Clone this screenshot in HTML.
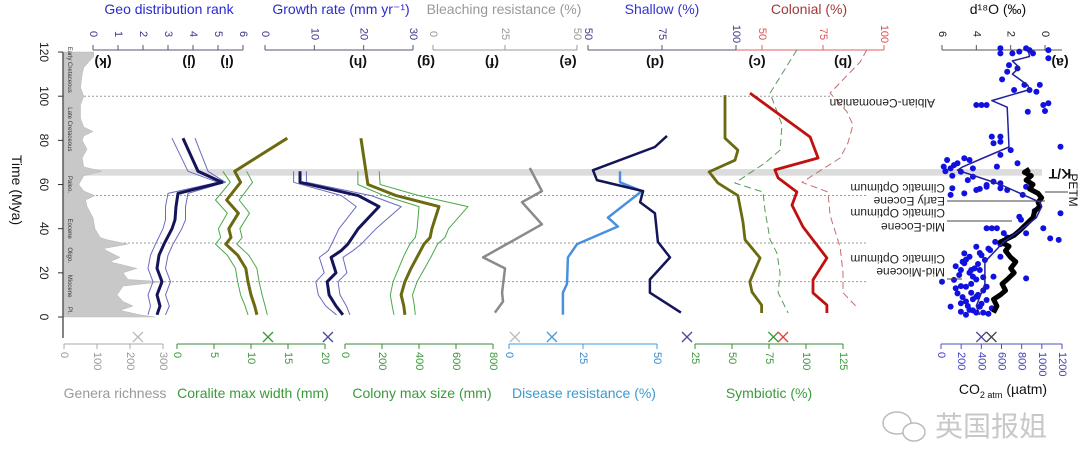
<!DOCTYPE html>
<html><head><meta charset="utf-8"><style>
html,body{margin:0;padding:0;background:#fff;width:1080px;height:473px;overflow:hidden}
svg{display:block;font-family:"Liberation Sans",Arial,sans-serif}
</style></head><body>
<svg id="c" width="1080" height="473" viewBox="0 0 1080 473"></svg>
<script>
// ---------- data ----------
const generaT=[120,118,113,110,104,100,96,90,86,84,82,80,76,72,68,66,64,60,57,55,53,50,45,40,36,35,33,31,30,27,25,22,20,17,16,14,12,10,7,5,3,1,0];
const generaV=[90,90,60,55,50,60,50,50,60,88,60,55,70,55,60,115,60,45,60,94,65,70,88,94,110,130,194,120,130,170,139,221,179,194,300,179,170,161,179,209,170,230,276];
const geoT=[81,66,61,56,50,44,40,33,28,22,16,10,5,1];
const geoMid=[3.6,4.2,5.16,3.4,3.32,3.28,3.16,2.84,2.64,2.56,2.76,2.56,2.68,2.56];
const geoLo=[3.16,3.8,5.0,3.0,2.9,2.9,2.8,2.5,2.3,2.2,2.4,2.2,2.3,2.2];
const geoHi=[4.08,4.6,5.3,3.8,3.7,3.7,3.55,3.2,3.0,2.9,3.1,2.9,3.05,2.9];
const coralT=[81,66,61,53,47,40,36,33,28,22,16,10,5,1];
const coralMid=[14.9,7.8,8.6,6.7,8.3,7.0,7.3,6.6,8.2,9.3,9.6,10.0,10.5,10.8];
const coralEnvT=[66,61,53,47,40,36,33,28,22,16,10,5,1];
const coralLo=[6.2,7.2,5.2,6.8,5.6,5.9,5.2,6.8,7.9,8.2,8.6,9.2,9.6];
const coralHi=[9.4,10.2,8.4,9.8,8.5,8.8,8.1,9.7,10.8,11.1,11.5,11.9,12.2];
const growthT=[66,61,55,50,40,33,30,27,20,16,10,5,1];
const growthMid=[7.1,7.1,18.9,23.1,18.9,16.8,15.4,13.4,14.4,12.6,13,14.4,15.8];
const growthLo=[5.8,5.8,15.5,18.5,15,13.5,12.8,11,12,10.3,10.8,12.3,14.5];
const growthHi=[8.4,8.4,21.5,27.6,22.5,19.5,17.8,15.8,16.6,14.8,15.2,16.5,17.2];
const colonyT=[81,60,55,50,40,36,33,28,22,16,10,5,1];
const colonyMid=[86,124,276,508,470,460,427,395,357,324,303,318,324];
const colonyEnvT=[66,60,55,50,40,36,33,28,22,16,10,5,1];
const colonyLo=[70,70,210,400,390,380,350,320,290,260,245,255,265];
const colonyHi=[185,190,400,665,560,540,500,470,430,390,365,375,380];
const bleachT=[67.5,57,52,42,27,22,11,7,2];
const bleachV=[33.6,37.8,30.9,37.8,17.4,25,24,24.3,21.5];
const diseaseT=[66,61,57,45,41,33,27,15,11,1];
const diseaseV=[37.5,37.5,44.9,33.4,36.8,23,19.9,19.6,18.2,18.2];
const shallowT=[82,77,66.5,62,57,52,47,34,27,17,11,2];
const shallowV=[76.7,72.6,51.7,53,68.6,67.6,72.6,73.6,77.7,70.9,70.9,81.4];
const symT=[100.5,81,75.6,71,65.7,60.7,55,43,35,26.7,16,11.3,5.4,1.8];
const symV=[45.3,45.3,54,52,34.5,40.5,54,57.4,58.8,69,62,63.5,70,70];
const colonialT=[101.4,81.5,72,66.6,63,56.6,50.7,40.8,26.7,16.8,10.9,5.4,1.8];
const colonialV=[45.1,69.7,73,55.3,56.6,64.3,62.3,66.8,76.6,70.9,70.9,76.6,76.6];
const symDashT=[121,101.4,87,75.6,69.7,60.7,56.6,48.5,35,29,20,11,1.8];
const symDashV=[64.3,53.3,58.2,57.4,51.2,38.9,50.4,51.2,53.3,56.1,57.4,56.6,60.7];
const colDashT=[121,115.5,101.4,93,87,78.8,72,61,56.6,46,31.7,20,11,4.5];
const colDashV=[93,90.2,77.9,84.8,87.3,85.2,82,66.4,77,77.9,82,83.2,83.2,88.9];
const d18LineT=[122,118,116,113,110,105,103,98,95,77,72,68,66.5,63.4,60,52,50,45,39,34,25,15,5,1];
const d18LineV=[1.0,0.9,1.9,1.5,1.9,1.0,0.9,3.1,2.2,2.1,3.6,4.8,5.1,3.9,2.6,0.3,0.2,0.5,1.5,2.4,3.5,3.5,4.0,3.8];
const blackT=[67,65.5,64,62,60,58,56,54,52,50,48,45,42,39,37,35,34,32,30,27,25,22,20,17,15,12,10,8,5,2];
const blackV=[0.9,1.2,0.8,1.1,0.7,0.9,0.4,0.2,0.4,0.3,0.6,0.7,1.1,1.5,1.8,2.3,2.6,2.1,2.3,2.0,1.7,2.0,1.8,2.2,2.5,2.3,2.6,3.0,2.8,3.0];
const scatterT=[121.7,119.4,119.4,120.2,121.7,120.9,119.4,120.9,117.2,114.1,112.6,111.1,107.6,102.8,105.1,102.8,102,105.1,96,96,96,96,96.8,93,93.3,81.7,81.7,79.4,78.7,75.6,73.4,77.1,71.1,68.1,67.3,69.6,71.9,71.1,67.3,65.8,68.8,68.1,69.6,59,60.6,58.3,63.5,55.3,56,57.5,59.8,61.3,58.3,57.5,55.3,59,47,40.2,40.2,40.2,40.2,35.6,34.9,45.4,37.9,31.8,27.3,24.3,21.3,16,16.8,10.7,6.2,2.4,3.2,4.7,9.2,13.7,18.3,21.3,18.3,7.7,13.7,4.7,17.5,27.3,30.3,28.8,21.3,25.8,2,2,3,5,6,8,9,11,12,14,15,19,20,22,23,24,26,29,31,33,36,44,48,62,64,66,58,1,1.5,4,7,10,13,17,18,25,28,34,38];
const scatterV=[2.6,2.6,1.9,1.5,1.1,0.9,0.7,-0.2,-0.2,2.1,1.6,2.2,2.5,1.8,1.2,0.9,0.5,0.3,4.0,3.7,3.4,0.1,-0.2,1.0,0.0,3.1,2.6,2.6,3.0,2.0,2.6,-0.9,5.7,5.9,5.5,5.1,4.7,4.4,4.2,4.9,5.3,2.8,1.6,3.4,2.6,5.4,4.2,5.5,4.7,4.0,3.4,3.0,2.6,2.2,1.3,1.1,-0.9,3.4,3.1,2.8,0.1,-0.3,-0.8,1.5,1.1,4.0,4.4,4.7,4.9,6.0,5.3,5.1,4.9,4.9,4.4,3.8,4.0,3.4,4.2,3.8,3.0,3.4,4.6,5.5,1.1,2.6,3.2,4.7,4.3,3.5,4.0,3.6,4.2,4.5,3.7,4.2,4.8,4.3,3.6,4.9,4.3,5.0,4.4,4.1,5.2,3.9,4.6,3.8,3.3,2.6,2.2,1.4,0.6,4.5,5.4,5.8,3.8,4.6,3.3,3.1,4.6,3.9,5.2,4.0,3.6,4.8,3.7,2.9,2.4];
const markerAxis=['genera','coral','coral','disease','disease','sym','sym','sym','co2','co2'];
const markerV=[224,12.3,20.4,2,14.5,19.6,78,84.5,400,500];
const timeTicks=[0,20,40,60,80,100,120];
const dottedT=[100,55,33.5,16];

// ---------- scales ----------
const NS='http://www.w3.org/2000/svg';
const svg=document.getElementById('c');
function lin(d0,d1,r0,r1){return v=>r0+(v-d0)*(r1-r0)/(d1-d0);}
const yT=t=>317-t*2.208;
const geoX=lin(0,6,93,243), growthX=lin(0,30,265,413), bleachX=lin(0,50,433,577),
 shallowX=lin(50,100,588,736), colonialX=lin(50,100,762,884), d18X=lin(0,6,1045,942),
 generaX=lin(0,300,64,163), coralX=lin(0,20,177,325), colonyX=lin(0,800,345,493),
 diseaseX=lin(0,50,509,657), symX=lin(25,125,695,843), co2X=lin(0,1200,941,1062);
const scaleMap={genera:generaX,coral:coralX,disease:diseaseX,sym:symX,co2:co2X};
function mk(tag,attrs,parent){const e=document.createElementNS(NS,tag);for(const k in attrs)e.setAttribute(k,attrs[k]);(parent||svg).appendChild(e);return e;}
function pts(T,V,sx){return T.map((t,i)=>sx(V[i]).toFixed(1)+','+yT(t).toFixed(1)).join(' ');}
function series(name,T,V,sx,color,w,dash){
  const e=mk('polyline',{points:pts(T,V,sx),fill:'none',stroke:color,'stroke-width':w,'stroke-linejoin':'round'});
  if(dash)e.setAttribute('stroke-dasharray',dash);
  
  
  return e;
}
function txt(s,x,y,o,p){const e=mk('text',Object.assign({x:x,y:y},o||{}),p);e.textContent=s;return e;}

// ---------- background band / dotted ----------
let band=mk('rect',{x:64,y:yT(67),width:978,height:yT(64)-yT(67),fill:'#dcdcdc'});


dottedT.forEach((t,i)=>{
  const l=mk('line',{x1:64,x2:i===0?830:868,y1:yT(t),y2:yT(t),stroke:'#999','stroke-width':1,'stroke-dasharray':'2,2'});
  
  
});

// ---------- genera richness area ----------
(function(){
  let d='M64,'+yT(generaT[0]);
  for(let i=0;i<generaT.length;i++){
    d+=' L'+generaX(generaV[i]).toFixed(1)+','+yT(generaT[i]).toFixed(1);
  }
  d+=' L64,'+yT(0)+' Z';
  const a=mk('path',{d:d,fill:'#c8c8c8',stroke:'#b8b8b8','stroke-width':0.5});
  
  
})();
const epochs=[['Early Cretaceous',112],['Late Cretaceous',85],['Paleo.',60],['Eocene',40],['Oligo.',28],['Miocene',14],['Pl.',3]];
epochs.forEach(e=>{
  const t=txt(e[0],68,yT(e[1]),{'font-size':6,fill:'#333','text-anchor':'middle',transform:'rotate(90 68 '+yT(e[1])+')'});
  
  
});

// ---------- time axis ----------
let ta=mk('line',{x1:63,x2:63,y1:yT(120),y2:yT(-9.5),stroke:'#333','stroke-width':1.2});


timeTicks.forEach(t=>{
  const l=mk('line',{x1:58,x2:63,y1:yT(t),y2:yT(t),stroke:'#333'});
  
  
  const s=txt(String(t),44,yT(t),{'font-size':12,fill:'#222','text-anchor':'middle','dominant-baseline':'central',transform:'rotate(90 44 '+yT(t)+')'});
  
  
});
let tt=txt('Time (Mya)',17,190,{'font-size':14,fill:'#111','text-anchor':'middle','dominant-baseline':'central',transform:'rotate(90 17 190)'});



// ---------- axes ----------
function topAxis(name,sx,x0,x1,ticks,color,lc){
  const l=mk('line',{x1:x0,x2:x1,y1:50,y2:50,stroke:color,'stroke-width':1});
  
  
  ticks.forEach(v=>{
    const x=sx(v);
    const tk=mk('line',{x1:x,x2:x,y1:50,y2:45,stroke:color});
    
    
    const s=txt(String(v),x,34,{'font-size':11,fill:lc,'text-anchor':'middle','dominant-baseline':'central',transform:'rotate(90 '+x+' 34)'});
    
    
  });
}
function botAxis(name,sx,x0,x1,ticks,color,lc){
  const l=mk('line',{x1:x0,x2:x1,y1:344,y2:344,stroke:color,'stroke-width':1});
  
  
  ticks.forEach(v=>{
    const x=sx(v);
    const tk=mk('line',{x1:x,x2:x,y1:344,y2:349,stroke:color});
    
    
    const s=txt(String(v),x,352,{'font-size':11,fill:lc,'text-anchor':'start','dominant-baseline':'central',transform:'rotate(90 '+x+' 352)'});
    
    
  });
}
topAxis('geo-rank',geoX,93,243,[0,1,2,3,4,5,6],'#55557a','#3a3a8a');
topAxis('growth-rate',growthX,265,413,[0,10,20,30],'#55557a','#3a3a8a');
topAxis('bleaching',bleachX,433,577,[0,25,50],'#999','#999');
topAxis('shallow',shallowX,588,736,[50,75,100],'#55557a','#3a3a8a');
topAxis('colonial',colonialX,736,884,[50,75,100],'#e06060','#e05050');
topAxis('d18o',d18X,942,1062,[6,4,2,0],'#555','#222');
botAxis('genera',generaX,64,163,[0,100,200,300],'#aaa','#999');
botAxis('coralite-width',coralX,177,325,[0,5,10,15,20],'#3a8a3a','#3a9a3a');
botAxis('colony-size',colonyX,345,493,[0,200,400,600,800],'#3a8a3a','#3a9a3a');
botAxis('disease',diseaseX,509,657,[0,25,50],'#4a9ad8','#3a8ac8');
botAxis('symbiotic',symX,695,843,[25,50,75,100,125],'#3a8a3a','#3a9a3a');
botAxis('co2',co2X,941,1062,[0,200,400,600,800,1000,1200],'#5050c0','#4040c0');

// titles
const tops=[['Geo distribution rank',169,'#2a2ad0'],['Growth rate (mm yr\u207B\u00B9)',341,'#2a2ad0'],['Bleaching resistance (%)',504,'#999'],['Shallow (%)',662,'#3333cc'],['Colonial (%)',809,'#a33a3a'],['d\u00B9\u2078O (\u2030)',998,'#111']];
tops.forEach(a=>{const s=txt(a[0],a[1],14,{'font-size':14,fill:a[2],'text-anchor':'middle'});
  
  });
const bots=[['Genera richness',115,'#999'],['Coralite max width (mm)',253,'#3a9a3a'],['Colony max size (mm)',422,'#3a9a3a'],['Disease resistance (%)',584,'#3a9ad0'],['Symbiotic (%)',769,'#3a9a3a']];
bots.forEach(a=>{const s=txt(a[0],a[1],398,{'font-size':14,fill:a[2],'text-anchor':'middle'});
  
  });
let co2t=mk('text',{x:1003,y:394,'font-size':14,fill:'#111','text-anchor':'middle'});
co2t.innerHTML='CO<tspan font-size="9" dy="4">2 atm</tspan><tspan dy="-4"> (\u00B5atm)</tspan>';



// panel labels
const panels=[['(k)',103],['(j)',189],['(i)',227],['(h)',358],['(g)',426],['(f)',492],['(e)',568],['(d)',655],['(c)',757],['(b)',843],['(a)',1060]];
panels.forEach(p=>{const s=txt(p[0],p[1],63,{'font-size':14,'font-weight':'bold',fill:'#111','text-anchor':'middle','dominant-baseline':'central',transform:'rotate(180 '+p[1]+' 63)'});
  
  });

// ---------- series ----------
series('geo-rank-lower',geoT,geoLo,geoX,'#6a6ac0',1);
series('geo-rank-upper',geoT,geoHi,geoX,'#6a6ac0',1);
series('geo-rank-line',geoT,geoMid,geoX,'#14145a',3);
series('coralite-width-lower',coralEnvT,coralLo,coralX,'#4aa84a',1);
series('coralite-width-upper',coralEnvT,coralHi,coralX,'#4aa84a',1);
series('coralite-width-line',coralT,coralMid,coralX,'#6a6a10',3);
series('growth-rate-lower',growthT,growthLo,growthX,'#6a6ac0',1);
series('growth-rate-upper',growthT,growthHi,growthX,'#6a6ac0',1);
series('growth-rate-line',growthT,growthMid,growthX,'#14145a',3);
series('colony-size-lower',colonyEnvT,colonyLo,colonyX,'#4aa84a',1);
series('colony-size-upper',colonyEnvT,colonyHi,colonyX,'#4aa84a',1);
series('colony-size-line',colonyT,colonyMid,colonyX,'#6a6a10',3);
series('bleaching-line',bleachT,bleachV,bleachX,'#8a8a8a',2.5);
series('disease-line',diseaseT,diseaseV,diseaseX,'#4a90e0',2.5);
series('shallow-line',shallowT,shallowV,shallowX,'#14145a',2.5);
series('symbiotic-line',symT,symV,symX,'#6a6a10',2.8);
series('symbiotic-dashed',symDashT,symDashV,colonialX,'#5a9a5a',1,'7,4');
series('colonial-line',colonialT,colonialV,colonialX,'#c01010',2.8);
series('colonial-dashed',colDashT,colDashV,colonialX,'#c07070',1,'7,4');

// d18O scatter
scatterT.forEach((t,i)=>{
  const c=mk('circle',{cx:d18X(scatterV[i]).toFixed(1),cy:yT(t).toFixed(1),r:3,fill:'#1010e0'});
  
  
});
series('d18o-black-curve',blackT,blackV,d18X,'#000',5);
series('d18o-trend-line',d18LineT,d18LineV,d18X,'#2020a0',1.5);

// markers
markerAxis.forEach((a,i)=>{
  const cols={genera:'#bbb',coral:'#3a9a3a',disease:'#4a9ad8',sym:'#3a9a3a',co2:'#5050a0'};
  let col=cols[a];
  if(i===2||i===5||i===8)col='#4a4a9a';
  if(i===3)col='#bbb';
  if(i===7)col='#e04040';
  if(i===9)col='#444';
  const x=scaleMap[a](markerV[i]),y=337,s=5;
  const p=mk('path',{d:`M${x-s},${y-s}L${x+s},${y+s}M${x-s},${y+s}L${x+s},${y-s}`,stroke:col,'stroke-width':1.3,fill:'none'});
  
  
});

// annotations
const ann=[['Albian-Cenomanian',935,103],['Climatic Optimum',945,188],['Early Eocene',945,201],['Climatic Optimum',945,213],['Mid-Eocene',945,227],['Climatic Optimum',945,259],['Mid-Miocene',945,272]];
ann.forEach(a=>{const s=txt(a[0],a[1],a[2],{'font-size':12,fill:'#222','text-anchor':'start','dominant-baseline':'central',transform:'rotate(180 '+a[1]+' '+a[2]+')'});
  
  });
[[947,1045,201],[947,1012,221],[947,962,279],[1045,1068,192]].forEach(l=>{
  const e=mk('line',{x1:l[0],x2:l[1],y1:l[2],y2:l[2],stroke:'#444','stroke-width':1});
  
  
});
let kt=txt('K/T',1060,174,{'font-size':14,'font-weight':'bold',fill:'#111','text-anchor':'middle','dominant-baseline':'central',transform:'rotate(180 1060 174)'});


let petm=txt('PETM',1073,190,{'font-size':12,fill:'#111','text-anchor':'middle','dominant-baseline':'central',transform:'rotate(90 1073 190)'});



// watermark
let wm=mk('g',{});


mk('ellipse',{cx:897,cy:423,rx:14,ry:11,fill:'none',stroke:'#bbb','stroke-width':1.5},wm);
mk('ellipse',{cx:914,cy:432,rx:11,ry:9,fill:'#fff',stroke:'#bbb','stroke-width':1.5},wm);
let wt=txt('英国报姐',991,436,{'font-size':28,fill:'#c8c8c8','text-anchor':'middle','font-family':'"Liberation Sans","Noto Sans CJK SC",sans-serif'},wm);


</script>
</body></html>
